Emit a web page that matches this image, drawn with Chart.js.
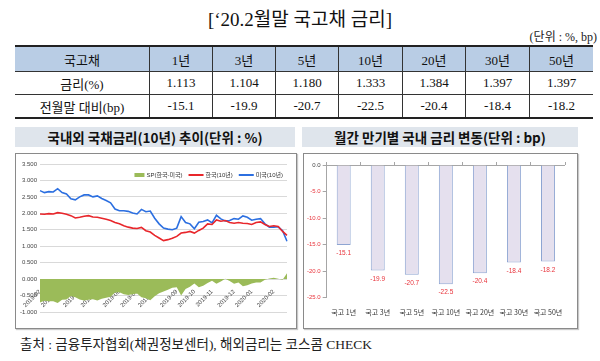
<!DOCTYPE html>
<html>
<head>
<meta charset="utf-8">
<script src="https://cdn.jsdelivr.net/npm/chart.js@4.4.1/dist/chart.umd.min.js"></script>
<style>
  body {
    margin: 0;
    width: 600px;
    height: 361px;
    background: #fff;
    position: relative;
    overflow: hidden;
    font-family: "Liberation Serif", "Noto Sans CJK KR", serif;
    color: #111;
  }
  .abs { position: absolute; }
  #title { left: 0; top: 4px; width: 600px; text-align: center; font-size: 19px; }
  #unit { right: 3px; top: 27px; font-size: 12px; color: #222; }
  #rates {
    position: absolute; left: 15px; top: 45px; width: 571px;
    border-collapse: collapse; font-size: 13px; table-layout: fixed;
    border-top: 2px solid #222; border-bottom: 2px solid #222;
  }
  #rates td { text-align: center; padding: 0; height: 22px; border-left: 1px solid #333; border-top: 1px solid #333; }
  #rates td:first-child { border-left: none; }
  #rates tr.head td { background: #b9cde5; height: 24px; }
  .ptitle {
    position: absolute; top: 127px; height: 20px; line-height: 20px;
    background: #dfe5ec; text-align: center; font-weight: bold;
    font-family: "Noto Sans CJK KR", sans-serif; font-size: 13.5px; color: #111;
  }
  .box { position: absolute; top: 153px; height: 174px; border: 1px solid #8a8a8a; box-shadow: 1px 1px 1px #c8c8c8; }
  canvas { position: absolute; }
  #source { left: 20px; top: 333px; font-size: 13.5px; color: #222; }
</style>
</head>
<body>
<div id="title" class="abs">[‘20.2월말 국고채 금리]</div>
<div id="unit" class="abs">(단위 : %, bp)</div>
<table id="rates"></table>

<div class="ptitle" style="left:15px;width:280px;">국내외 국채금리(10년) 추이(단위 : %)</div>
<div class="ptitle" style="left:302px;width:276px;">월간 만기별 국내 금리 변동(단위 : bp)</div>
<div class="box" style="left:15px;width:280px;"></div>
<div class="box" style="left:303px;width:273px;"></div>
<canvas id="trendChart" width="277" height="171" style="left:17px;top:155px;"></canvas>
<canvas id="changeChart" width="270" height="171" style="left:305px;top:155px;"></canvas>

<div id="source" class="abs">출처 : 금융투자협회(채권정보센터), 해외금리는 코스콤 CHECK</div>

<script>
// table
var tableHead = ["국고채", "1년", "3년", "5년", "10년", "20년", "30년", "50년"];
var yieldRow = ["금리(%)", "1.113", "1.104", "1.180", "1.333", "1.384", "1.397", "1.397"];
var changeRow = ["전월말 대비(bp)", "-15.1", "-19.9", "-20.7", "-22.5", "-20.4", "-18.4", "-18.2"];

// 10y yields, weekly from 2019-02-01
var korea = [1.98, 1.97, 1.99, 1.98, 2.02, 2.00, 1.97, 1.93, 1.86, 1.88,
             1.91, 1.93, 1.89, 1.88, 1.85, 1.82, 1.78, 1.72, 1.68, 1.62,
             1.58, 1.55, 1.54, 1.57, 1.47, 1.43, 1.33, 1.25, 1.17, 1.20,
             1.24, 1.30, 1.40, 1.42, 1.45, 1.40, 1.48, 1.55, 1.68, 1.66,
             1.80, 1.76, 1.78, 1.72, 1.70, 1.72, 1.70, 1.69, 1.66, 1.72,
             1.74, 1.66, 1.60, 1.62, 1.60, 1.45, 1.33];
var usa = [2.69, 2.63, 2.66, 2.65, 2.75, 2.63, 2.59, 2.44, 2.41, 2.50,
           2.56, 2.56, 2.50, 2.53, 2.45, 2.39, 2.32, 2.13, 2.08, 2.08,
           2.06, 2.01, 1.98, 2.12, 2.05, 2.07, 1.85, 1.68, 1.55, 1.52,
           1.50, 1.55, 1.90, 1.72, 1.68, 1.53, 1.73, 1.75, 1.80, 1.71,
           1.94, 1.83, 1.77, 1.78, 1.84, 1.82, 1.92, 1.88, 1.79, 1.82,
           1.84, 1.68, 1.58, 1.58, 1.59, 1.47, 1.15];
var spread = [-0.71, -0.66, -0.67, -0.67, -0.73, -0.63, -0.62, -0.51, -0.55, -0.62,
              -0.65, -0.63, -0.61, -0.65, -0.60, -0.57, -0.54, -0.41, -0.40, -0.46,
              -0.48, -0.46, -0.44, -0.55, -0.58, -0.64, -0.52, -0.43, -0.38, -0.32,
              -0.26, -0.25, -0.50, -0.30, -0.23, -0.13, -0.25, -0.20, -0.12, -0.05,
              -0.14, -0.07, 0.01, -0.06, -0.14, -0.10, -0.22, -0.19, -0.13, -0.10,
              -0.10, -0.02, 0.02, 0.04, 0.01, -0.02, 0.18];

// monthly change by tenor (bp)
var tenors = ["국고 1년", "국고 3년", "국고 5년", "국고 10년", "국고 20년", "국고 30년", "국고 50년"];
var change = [-15.1, -19.9, -20.7, -22.5, -20.4, -18.4, -18.2];

var colWidths = [134, 62, 62, 62, 63, 62, 63, 63];
var table = document.getElementById("rates");
[tableHead, yieldRow, changeRow].forEach(function (row, r) {
    var tr = document.createElement("tr");
    if (r === 0) tr.className = "head";
    row.forEach(function (text, c) {
        var td = document.createElement("td");
        td.textContent = text;
        td.style.width = colWidths[c] + "px";
        tr.appendChild(td);
    });
    table.appendChild(tr);
});

// weekly labels, show month only when it changes
var weekLabels = korea.map(function (v, i) {
    var d = new Date(2019, 1, 1 + 7 * i);
    var m = d.getMonth() + 1;
    return d.getFullYear() + "-" + (m < 10 ? "0" + m : m);
});

var smallFont = { family: "'Liberation Sans', 'Noto Sans CJK KR', sans-serif", size: 6 };

// legend drawn inside the plot, top right
var insideLegend = {
    id: "insideLegend",
    afterDraw: function (chart) {
        var ctx = chart.ctx;
        var area = chart.chartArea;
        ctx.save();
        ctx.font = "6px 'Liberation Sans', 'Noto Sans CJK KR', sans-serif";
        ctx.textBaseline = "middle";
        var y = area.top + 11;
        var sets = chart.data.datasets;
        var total = 0;
        sets.forEach(function (ds, i) {
            total += (i === 0 ? 10 : 15) + 2 + ctx.measureText(ds.label).width + (i < sets.length - 1 ? 6 : 0);
        });
        var x = area.right - 4 - total;
        sets.forEach(function (ds, i) {
            ctx.fillStyle = ds.borderColor;
            if (i === 0) {
                ctx.fillRect(x, y - 2, 10, 4);
                x += 12;
            } else {
                ctx.fillRect(x, y - 1, 15, 2);
                x += 17;
            }
            ctx.fillStyle = "#333";
            ctx.fillText(ds.label, x, y);
            x += ctx.measureText(ds.label).width + 6;
        });
        ctx.restore();
    },
};

new Chart(document.getElementById("trendChart"), {
    type: "line",
    data: {
        labels: weekLabels,
        datasets: [
            {
                label: "SP(한국-미국)",
                data: spread,
                borderWidth: 0,
                borderColor: "#9bbb59",
                backgroundColor: "#9bbb59",
                fill: "origin",
                pointRadius: 0,
            },
            {
                label: "한국(10년)",
                data: korea,
                borderWidth: 1.6,
                borderColor: "#e8262b",
                backgroundColor: "#e8262b",
                pointRadius: 0,
            },
            {
                label: "미국(10년)",
                data: usa,
                borderWidth: 1.6,
                borderColor: "#2c6fe0",
                backgroundColor: "#2c6fe0",
                pointRadius: 0,
            },
        ],
    },
    options: {
        responsive: false,
        animation: false,
        layout: { padding: { left: 0, right: 7, top: 9, bottom: 14 } },
        plugins: {
            legend: { display: false },
            tooltip: { enabled: false },
        },
        scales: {
            x: {
                position: { y: 0 },
                z: 1,
                grid: { display: false },
                border: { display: false },
                ticks: {
                    autoSkip: false,
                    minRotation: 45,
                    maxRotation: 45,
                    padding: 1,
                    font: smallFont,
                    color: "#444",
                    callback: function (val, i) {
                        if (i === 0 || weekLabels[i] !== weekLabels[i - 1]) return weekLabels[i];
                        return "";
                    },
                },
            },
            y: {
                min: -1,
                max: 3.5,
                grid: { color: "#d9d9d9", drawTicks: false },
                border: { display: false },
                ticks: {
                    stepSize: 0.5,
                    padding: 3,
                    font: smallFont,
                    color: "#444",
                    callback: function (v) { return v.toFixed(3); },
                },
            },
        },
    },
    plugins: [insideLegend],
});

var valueLabels = {
    id: "valueLabels",
    afterDatasetsDraw: function (chart) {
        var ctx = chart.ctx;
        var meta = chart.getDatasetMeta(0);
        ctx.save();
        ctx.fillStyle = "#e8343c";
        ctx.font = "6.5px 'Liberation Sans', sans-serif";
        ctx.textAlign = "center";
        ctx.textBaseline = "top";
        meta.data.forEach(function (bar, i) {
            ctx.fillText(change[i].toFixed(1), bar.x, bar.y + 5);
        });
        ctx.restore();
    },
};

new Chart(document.getElementById("changeChart"), {
    type: "bar",
    data: {
        labels: tenors,
        datasets: [
            {
                data: change,
                backgroundColor: "#e5e0ee",
                borderColor: "#8ea5d2",
                borderWidth: 1,
                categoryPercentage: 1,
                barPercentage: 0.41,
            },
        ],
    },
    options: {
        responsive: false,
        animation: false,
        layout: { padding: { left: 0, right: 10, top: 7, bottom: 6 } },
        plugins: { legend: { display: false }, tooltip: { enabled: false } },
        scales: {
            x: {
                grid: { display: false },
                border: { display: false },
                ticks: {
                    autoSkip: false,
                    minRotation: 0,
                    maxRotation: 0,
                    padding: 3,
                    font: { family: "'Noto Sans CJK KR', sans-serif", size: 7 },
                    color: "#333",
                },
            },
            x2: {
                type: "category",
                labels: tenors,
                position: "top",
                offset: true,
                grid: { offset: true, drawOnChartArea: false, tickLength: 3, color: "#a6a6a6" },
                border: { display: false },
                ticks: { display: false },
            },
            y: {
                min: -25,
                max: 0,
                grid: {
                    color: function (c) { return c.tick.value === 0 ? "#a6a6a6" : "rgba(0,0,0,0)"; },
                    tickColor: "#a6a6a6",
                    tickLength: 4,
                },
                border: { display: true, color: "#a6a6a6" },
                ticks: {
                    stepSize: 5,
                    padding: 2,
                    font: smallFont,
                    color: function (c) { return c.tick.value < 0 ? "#e8343c" : "#444"; },
                    callback: function (v) { return v.toFixed(1); },
                },
            },
        },
    },
    plugins: [valueLabels],
});
</script>
</body>
</html>
